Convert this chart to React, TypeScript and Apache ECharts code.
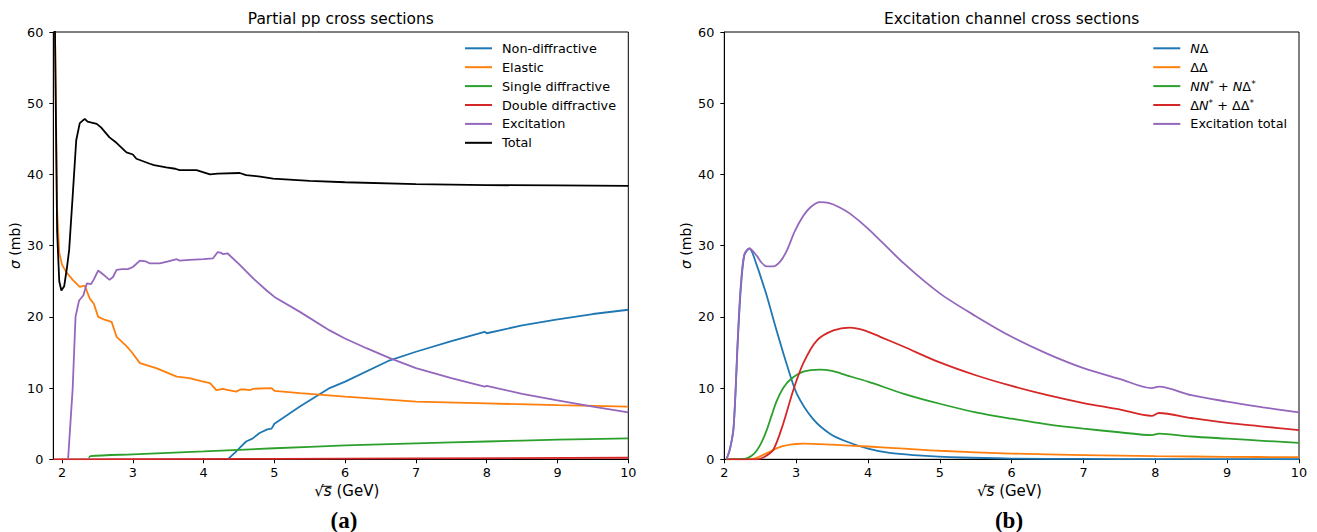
import React, { useEffect, useRef } from "react";
import * as echarts from "echarts";

// ---------- tick values ----------
const X_TICKS = [2, 3, 4, 5, 6, 7, 8, 9, 10];
const LEFT_X_MIN = 1.876;
const RIGHT_X_MIN = 2;
const X_MAX = 10;
const Y_MAX = 60;
const Y_INTERVAL = 10;

// ---------- panel (a): partial pp cross sections ----------
const leftNames = ["Non-diffractive", "Elastic", "Single diffractive", "Double diffractive", "Excitation", "Total"];

const nonDiffractive: [number, number][] = [
  [4.34, 0], [4.45, 1.0], [4.52, 1.7], [4.6, 2.5], [4.69, 2.9], [4.79, 3.7], [4.9, 4.2], [4.96, 4.3],
  [5.0, 5.0], [5.36, 7.4], [5.78, 10.0], [6.0, 10.9], [6.63, 13.9], [7.0, 15.1], [7.5, 16.6],
  [7.97, 17.9], [8.0, 17.7], [8.5, 18.8], [8.98, 19.6], [9.5, 20.4], [10, 21.0],
];
const elastic: [number, number][] = [
  [1.876, 200], [1.9, 60], [1.93, 35], [1.96, 29], [2.0, 27.3], [2.06, 26.3], [2.15, 25.2], [2.25, 24.2],
  [2.32, 24.4], [2.39, 22.6], [2.45, 21.8], [2.51, 20.0], [2.6, 19.6], [2.7, 19.3], [2.77, 17.2], [2.9, 16.0],
  [2.98, 15.1], [3.1, 13.5], [3.33, 12.8], [3.45, 12.3], [3.62, 11.6], [3.8, 11.4], [3.95, 11.0], [4.09, 10.7],
  [4.18, 9.7], [4.27, 9.9], [4.35, 9.7], [4.46, 9.5], [4.52, 9.8], [4.6, 9.8], [4.65, 9.7], [4.7, 9.9],
  [4.96, 10.0], [5.0, 9.6], [5.36, 9.3], [6, 8.8], [7, 8.1], [8, 7.85], [9, 7.6], [10, 7.4],
];
const singleDiffractive: [number, number][] = [
  [2.38, 0.2], [2.4, 0.45], [3, 0.7], [4, 1.1], [5, 1.55], [6, 1.95], [7, 2.25], [8, 2.5], [9, 2.75], [10, 2.95],
];
const doubleDiffractive: [number, number][] = [
  [1.876, 0], [3, 0.02], [5, 0.06], [7, 0.12], [10, 0.22],
];
const excitation: [number, number][] = [
  [2.085, 0], [2.15, 10], [2.19, 20], [2.24, 22.3], [2.3, 23.0], [2.35, 24.7], [2.41, 24.6], [2.45, 25.3],
  [2.51, 26.5], [2.6, 25.8], [2.67, 25.2], [2.72, 25.6], [2.77, 26.6], [2.85, 26.7], [2.93, 26.7], [3.0, 27.0],
  [3.1, 27.9], [3.18, 27.8], [3.24, 27.5], [3.38, 27.5], [3.5, 27.8], [3.62, 28.1], [3.66, 27.9], [3.8, 28.0],
  [4.0, 28.1], [4.13, 28.2], [4.2, 29.1], [4.25, 29.0], [4.27, 28.8], [4.34, 28.9], [4.5, 27.4], [4.7, 25.4],
  [4.89, 23.7], [5.0, 22.8], [5.36, 20.7], [5.78, 18.1], [5.99, 17.0], [6.3, 15.6], [6.63, 14.2], [7.0, 12.8],
  [7.5, 11.4], [7.97, 10.2], [8.0, 10.3], [8.5, 9.2], [8.98, 8.3], [9.5, 7.4], [10, 6.6],
];
const total: [number, number][] = [
  [1.88, 150], [1.9, 60], [1.93, 32], [1.96, 25], [1.99, 23.7], [2.03, 24.3], [2.07, 27], [2.1, 29.4],
  [2.15, 37], [2.2, 44.8], [2.25, 47.2], [2.32, 47.8], [2.36, 47.4], [2.49, 47.1], [2.55, 46.6], [2.67, 45.2],
  [2.75, 44.6], [2.91, 43.1], [3.0, 42.8], [3.05, 42.2], [3.24, 41.5], [3.3, 41.3], [3.47, 41.0], [3.6, 40.8],
  [3.66, 40.6], [3.9, 40.6], [4.0, 40.3], [4.09, 40.0], [4.2, 40.1], [4.51, 40.2], [4.6, 39.9], [4.8, 39.7],
  [4.98, 39.4], [5.5, 39.1], [6, 38.9], [7, 38.65], [8, 38.5], [9, 38.45], [10, 38.4],
];

// ---------- panel (b): excitation channel cross sections ----------
const rightNames = ["NΔ", "ΔΔ", "NN* + NΔ*", "ΔN* + ΔΔ*", "Excitation total"];

const nDelta: [number, number][] = [
  [2.03, 0], [2.08, 1.5], [2.13, 4.5], [2.19, 17], [2.23, 24], [2.28, 28.7], [2.35, 29.6], [2.45, 27.3],
  [2.52, 25.2], [2.59, 23.0], [2.73, 18.0], [2.87, 13.3], [3.01, 9.2], [3.24, 5.6], [3.47, 3.6], [3.7, 2.5],
  [4.0, 1.5], [4.3, 0.9], [4.63, 0.6], [5.3, 0.25], [6, 0.1], [7, 0.05], [8, 0.02], [10, 0.01],
];
const deltaDelta: [number, number][] = [
  [2.03, 0], [2.35, 0], [2.45, 0.2], [2.6, 0.9], [2.8, 1.8], [3.0, 2.15], [3.1, 2.2], [3.5, 2.05], [4.0, 1.8],
  [4.5, 1.5], [5.0, 1.2], [6, 0.8], [7, 0.6], [8, 0.45], [9, 0.35], [10, 0.3],
];
const nnStar: [number, number][] = [
  [2.03, 0], [2.2, 0.05], [2.3, 0.1], [2.38, 0.5], [2.45, 1.2], [2.52, 2.4], [2.59, 4.1], [2.66, 6.2],
  [2.73, 8.2], [2.82, 10.0], [2.92, 11.2], [3.1, 12.3], [3.33, 12.6], [3.5, 12.4], [3.7, 11.8], [4.0, 10.9],
  [4.5, 9.2], [5.0, 7.8], [5.5, 6.6], [6.0, 5.7], [6.5, 4.9], [7.0, 4.3], [7.5, 3.8], [7.95, 3.4], [8.05, 3.6],
  [8.5, 3.2], [9.0, 2.9], [9.5, 2.6], [10, 2.3],
];
const deltaNStar: [number, number][] = [
  [2.03, 0], [2.45, 0], [2.55, 0.3], [2.68, 1.3], [2.82, 5.0], [2.96, 9.7], [3.1, 13.5], [3.29, 16.7],
  [3.52, 18.1], [3.75, 18.5], [3.95, 18.1], [4.17, 17.2], [4.5, 15.8], [5.0, 13.6], [5.5, 11.8], [6.0, 10.3],
  [6.5, 9.0], [7.0, 7.9], [7.5, 7.0], [7.95, 6.1], [8.05, 6.5], [8.5, 5.8], [9.0, 5.1], [9.5, 4.6], [10, 4.1],
];
const excitationTotal: [number, number][] = [
  [2.03, 0], [2.08, 1.5], [2.13, 4.6], [2.19, 17.5], [2.23, 24.5], [2.28, 28.8], [2.35, 29.6], [2.45, 28.6],
  [2.52, 27.6], [2.59, 27.1], [2.68, 27.1], [2.78, 27.8], [2.87, 29.3], [2.98, 32.0], [3.1, 34.2], [3.2, 35.4],
  [3.33, 36.1], [3.45, 36.0], [3.6, 35.4], [3.75, 34.5], [4.0, 32.4], [4.5, 27.5], [5.0, 23.3], [5.5, 20.1],
  [6.0, 17.2], [6.5, 14.8], [7.0, 12.8], [7.5, 11.3], [7.95, 10.0], [8.05, 10.2], [8.5, 9.0], [9.0, 8.1],
  [9.5, 7.3], [10, 6.6],
];

const COLORS = ["#1f77b4", "#ff7f0e", "#2ca02c", "#d62728", "#9467bd", "#000000"];
const FONT = "'DejaVu Sans', sans-serif";
const SERIF = "'Liberation Serif', 'DejaVu Serif', serif";

const GRID_TOP = 32;
const GRID_H = 427.3;

export default function App() {
  const ref = useRef<HTMLDivElement>(null);
  useEffect(() => {
    const chart = echarts.init(ref.current!, null, { renderer: "svg" });

    const xAxis = (grid: number, min: number) => ({
      type: "value",
      gridIndex: grid,
      min,
      max: X_MAX,
      axisLine: { show: true, onZero: false, lineStyle: { color: "#000", width: 1 } },
      axisTick: { show: true, length: 4, lineStyle: { color: "#000", width: 1 }, customValues: X_TICKS },
      axisLabel: { color: "#000", fontSize: 12.8, fontFamily: FONT, margin: 7, customValues: X_TICKS },
      splitLine: { show: false },
    });
    const yAxis = (grid: number) => ({
      type: "value",
      gridIndex: grid,
      min: 0,
      max: Y_MAX,
      interval: Y_INTERVAL,
      axisLine: { show: true, lineStyle: { color: "#000", width: 1 } },
      axisTick: { show: true, length: 4, lineStyle: { color: "#000", width: 1 } },
      axisLabel: { color: "#000", fontSize: 12.8, fontFamily: FONT, margin: 10 },
      splitLine: { show: false },
    });

    const mk = (name: string, data: [number, number][], color: string, idx: number, z: number, smooth: number | boolean = false) => ({
      type: "line",
      name,
      data,
      xAxisIndex: idx,
      yAxisIndex: idx,
      symbol: "none",
      showSymbol: false,
      clip: true,
      smooth,
      z,
      lineStyle: { color, width: 1.8 },
      itemStyle: { color },
    });

    const rightLabels: Record<string, string> = {
      "NΔ": "{i|N}{n|Δ}",
      "ΔΔ": "{n|ΔΔ}",
      "NN* + NΔ*": "{i|NN}{s|*}{n| + }{i|N}{n|Δ}{s|*}",
      "ΔN* + ΔΔ*": "{n|Δ}{i|N}{s|*}{n| + ΔΔ}{s|*}",
      "Excitation total": "{n|Excitation total}",
    };

    const legendText = {
      color: "#000",
      fontSize: 12.8,
      fontFamily: FONT,
      lineHeight: 14,
      padding: [0, 0, 0, 5],
    };

    const xName = (x0: number) => ({
      type: "group",
      x: x0,
      y: 491.3,
      children: [
        {
          type: "text",
          x: 0,
          y: 0,
          style: {
            text: "√{i|s} (GeV)",
            fontSize: 15,
            fontFamily: FONT,
            fill: "#000",
            align: "left",
            verticalAlign: "middle",
            textAlign: "left",
            textVerticalAlign: "middle",
            rich: { i: { fontStyle: "italic", fontSize: 15, fontFamily: FONT, fill: "#000" } },
          },
        },
        { type: "line", shape: { x1: 7, y1: -5, x2: 17.5, y2: -5 }, style: { stroke: "#000", lineWidth: 1 } },
      ],
    });

    const yName = (cx: number) => ({
      type: "text",
      x: cx,
      y: GRID_TOP + GRID_H / 2,
      rotation: Math.PI / 2,
      style: {
        text: "{i|σ} (mb)",
        fontSize: 14,
        fontFamily: FONT,
        fill: "#000",
        align: "center",
        verticalAlign: "middle",
        textAlign: "center",
        textVerticalAlign: "middle",
        rich: { i: { fontStyle: "italic", fontSize: 14, fontFamily: FONT, fill: "#000" } },
      },
    });

    const centerText = (text: string, x: number, y: number, fontSize: number, fontFamily: string, fontWeight = "normal") => ({
      type: "text",
      x,
      y,
      style: {
        text,
        fontSize,
        fontFamily,
        fontWeight,
        fill: "#000",
        align: "center",
        verticalAlign: "middle",
        textAlign: "center",
        textVerticalAlign: "middle",
      },
    });

    const legendBase = {
      orient: "vertical",
      top: 41.3,
      padding: 0,
      icon: "rect",
      itemWidth: 27,
      itemHeight: 2,
      itemGap: 4.9,
      selectedMode: false,
    };

    const option: any = {
      animation: false,
      backgroundColor: "#fff",
      grid: [
        { left: 53.3, top: GRID_TOP, width: 575, height: GRID_H, show: true, borderColor: "#000", borderWidth: 1, backgroundColor: "transparent" },
        { left: 724.3, top: GRID_TOP, width: 574.7, height: GRID_H, show: true, borderColor: "#000", borderWidth: 1, backgroundColor: "transparent" },
      ],
      xAxis: [xAxis(0, LEFT_X_MIN), xAxis(1, RIGHT_X_MIN)],
      yAxis: [yAxis(0), yAxis(1)],
      legend: [
        {
          ...legendBase,
          left: 465,
          data: leftNames,
          textStyle: legendText,
        },
        {
          ...legendBase,
          left: 1153.3,
          data: rightNames,
          formatter: (name: string) => rightLabels[name] || name,
          textStyle: {
            ...legendText,
            rich: {
              i: { fontStyle: "italic", fontSize: 12.8, fontFamily: FONT, color: "#000", lineHeight: 14 },
              n: { fontSize: 12.8, fontFamily: FONT, color: "#000", lineHeight: 14 },
              s: { fontSize: 9, fontFamily: FONT, color: "#000", lineHeight: 8, verticalAlign: "top" },
            },
          },
        },
      ],
      series: [
        mk(leftNames[0], nonDiffractive, COLORS[0], 0, 2),
        mk(leftNames[1], elastic, COLORS[1], 0, 3),
        mk(leftNames[2], singleDiffractive, COLORS[2], 0, 4, 0.3),
        mk(leftNames[3], doubleDiffractive, COLORS[3], 0, 5),
        mk(leftNames[4], excitation, COLORS[4], 0, 6),
        mk(leftNames[5], total, COLORS[5], 0, 7),
        mk(rightNames[0], nDelta, COLORS[0], 1, 2, 0.3),
        mk(rightNames[1], deltaDelta, COLORS[1], 1, 3, 0.3),
        mk(rightNames[2], nnStar, COLORS[2], 1, 4, 0.3),
        mk(rightNames[3], deltaNStar, COLORS[3], 1, 5, 0.3),
        mk(rightNames[4], excitationTotal, COLORS[4], 1, 6, 0.3),
      ],
      graphic: [
        centerText("Partial pp cross sections", 340.8, 18.5, 15.4, FONT),
        centerText("Excitation channel cross sections", 1011.7, 18.5, 15.4, FONT),
        yName(15),
        yName(686),
        xName(314.3),
        xName(977),
        centerText("(a)", 344, 520, 23, SERIF, "bold"),
        centerText("(b)", 1009, 520, 23, SERIF, "bold"),
      ],
    };

    chart.setOption(option);
    return () => chart.dispose();
  }, []);

  return <div ref={ref} style={{ position: "absolute", left: 0, top: 0, width: 1317, height: 532 }} />;
}
